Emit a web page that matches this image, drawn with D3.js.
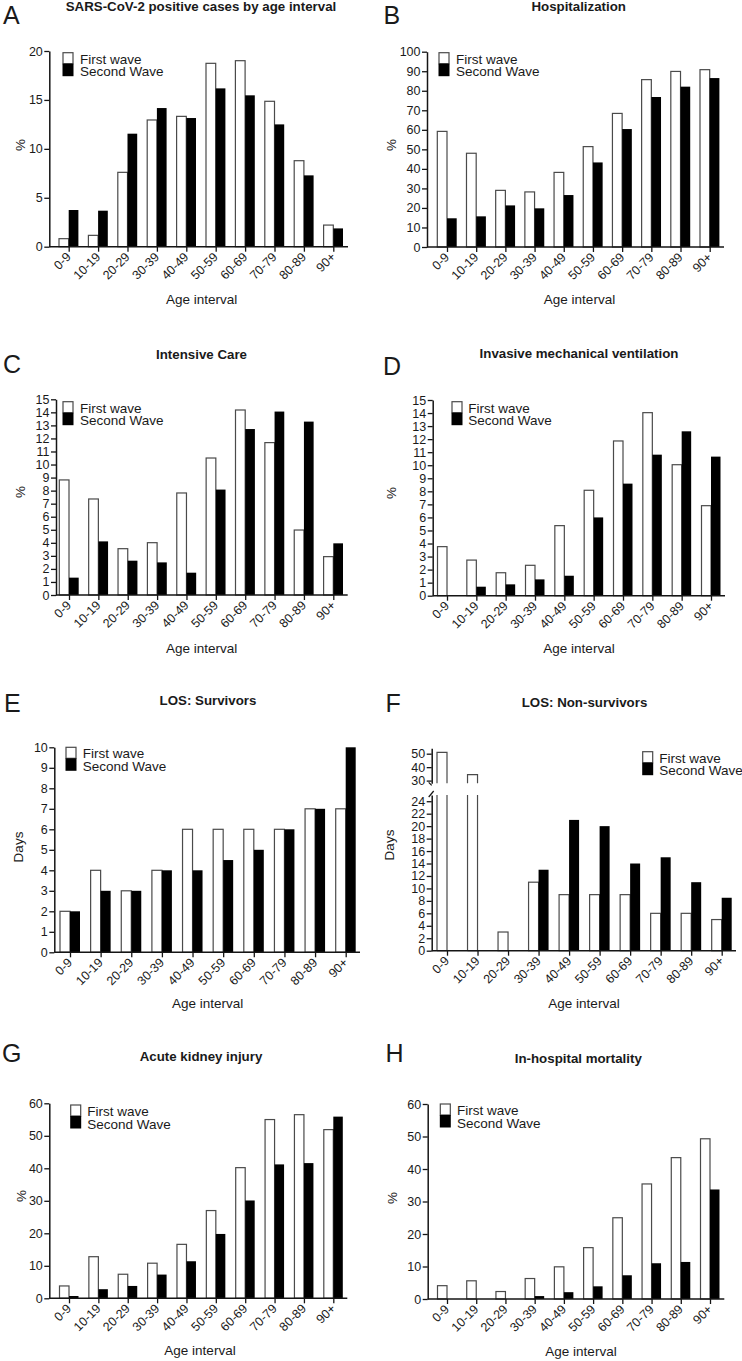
<!DOCTYPE html>
<html>
<head>
<meta charset="utf-8">
<script src="https://cdn.jsdelivr.net/npm/d3@7"></script>
<style>
  html, body { margin: 0; padding: 0; background: #fff; }
  svg { display: block; }
</style>
</head>
<body>
<svg id="chart" width="742" height="1361"></svg>
<script>
// ---------------- DATA ----------------
const ageGroups = ["0-9", "10-19", "20-29", "30-39", "40-49", "50-59", "60-69", "70-79", "80-89", "90+"];
const seriesNames = ["First wave", "Second Wave"];

const casesFirst  = [0.82, 1.16, 7.6, 12.95, 13.32, 18.74, 19.01, 14.86, 8.79, 2.21];
const casesSecond = [3.75, 3.68, 11.55, 14.17, 13.15, 16.18, 15.47, 12.5, 7.29, 1.87];
const casesTicks  = [0, 5, 10, 15, 20];

const hospFirst  = [59.2, 48.0, 29.0, 28.2, 38.2, 51.4, 68.4, 85.7, 89.9, 90.8];
const hospSecond = [14.7, 15.7, 21.3, 19.8, 26.6, 43.3, 60.4, 76.8, 82.1, 86.5];
const hospTicks  = [0, 10, 20, 30, 40, 50, 60, 70, 80, 90, 100];

const icuFirst  = [8.82, 7.36, 3.55, 4.01, 7.82, 10.5, 14.18, 11.68, 4.98, 2.94];
const icuSecond = [1.33, 4.11, 2.63, 2.5, 1.71, 8.08, 12.72, 14.06, 13.29, 3.96];
const icuTicks  = [0, 1, 2, 3, 4, 5, 6, 7, 8, 9, 10, 11, 12, 13, 14, 15];

const imvFirst  = [3.76, 2.73, 1.76, 2.33, 5.37, 8.08, 11.86, 14.03, 10.04, 6.9];
const imvSecond = [0, 0.69, 0.87, 1.25, 1.53, 6.0, 8.59, 10.81, 12.6, 10.66];
const imvTicks  = [0, 1, 2, 3, 4, 5, 6, 7, 8, 9, 10, 11, 12, 13, 14, 15];

const losSurvFirst  = [2, 4, 3, 4, 6, 6, 6, 6, 7, 7];
const losSurvSecond = [2, 3, 3, 4, 4, 4.5, 5, 6, 7, 10];
const losSurvTicks  = [0, 1, 2, 3, 4, 5, 6, 7, 8, 9, 10];

const losNonSurvFirst  = [51, 34.5, 3, 11, 9, 9, 9, 6, 6, 5];
const losNonSurvSecond = [0, 0, 0, 13, 21, 20, 14, 15, 11, 8.5];
const losNonSurvTicksLow  = [0, 2, 4, 6, 8, 10, 12, 14, 16, 18, 20, 22, 24];
const losNonSurvTicksHigh = [30, 40, 50];

const akiFirst  = [3.8, 12.8, 7.4, 10.8, 16.6, 27.0, 40.2, 55.0, 56.5, 51.9];
const akiSecond = [0.7, 2.8, 3.8, 7.3, 11.4, 19.8, 30.1, 41.2, 41.6, 55.9];
const akiTicks  = [0, 10, 20, 30, 40, 50, 60];

const mortFirst  = [4.1, 5.6, 2.3, 6.3, 9.9, 15.8, 25.0, 35.4, 43.5, 49.3];
const mortSecond = [0, 0, 0, 0.9, 2.1, 3.9, 7.3, 11.0, 11.4, 33.7];
const mortTicks  = [0, 10, 20, 30, 40, 50, 60];

// ---------------- STYLE / LAYOUT ----------------
const FONT = "'Liberation Sans', Arial, Helvetica, sans-serif";
const svg = d3.select("#chart");

const panels = [
  { letter: "A", title: "SARS-CoV-2 positive cases by age interval", ylabel: "%",
    first: casesFirst, second: casesSecond, ticks: casesTicks, max: 20,
    axisX: 49.3, y0: 246.7, yTop: 51, xEnd: 348, c0: 68.7, c9: 333.3, bw: 9.7,
    letterPos: [3, 24], titlePos: [201, 10.5], legend: [63, 52.7, 80], ylab: [20.5, 145], xlab: [201.7, 304] },
  { letter: "B", title: "Hospitalization", ylabel: "%",
    first: hospFirst, second: hospSecond, ticks: hospTicks, max: 100,
    axisX: 427, y0: 247, yTop: 51.7, xEnd: 724, c0: 447, c9: 709.7, bw: 9.7,
    letterPos: [383.5, 23.5], titlePos: [578.7, 11], legend: [439, 52.7, 456], ylab: [391.5, 145], xlab: [579.5, 304] },
  { letter: "C", title: "Intensive Care", ylabel: "%",
    first: icuFirst, second: icuSecond, ticks: icuTicks, max: 15,
    axisX: 56, y0: 595, yTop: 399.3, xEnd: 347.7, c0: 69, c9: 333.3, bw: 9.7,
    letterPos: [3, 373], titlePos: [201.5, 359], legend: [63, 401.7, 80], ylab: [20.5, 492], xlab: [201.7, 652.5] },
  { letter: "D", title: "Invasive mechanical ventilation", ylabel: "%",
    first: imvFirst, second: imvSecond, ticks: imvTicks, max: 15,
    axisX: 432.7, y0: 595.7, yTop: 400, xEnd: 725, c0: 447, c9: 711, bw: 9.5,
    letterPos: [383, 375], titlePos: [579, 358], legend: [452, 401.7, 468.3], ylab: [391.5, 493], xlab: [579, 652.5] },
  { letter: "E", title: "LOS: Survivors", ylabel: "Days",
    first: losSurvFirst, second: losSurvSecond, ticks: losSurvTicks, max: 10,
    axisX: 54.3, y0: 952.3, yTop: 747.3, xEnd: 360, c0: 70, c9: 345.7, bw: 10,
    letterPos: [4, 711.7], titlePos: [208, 705], legend: [66, 747.3, 82.7], ylab: [18.5, 847], xlab: [207.7, 1008] },
  { letter: "F", title: "LOS: Non-survivors", ylabel: "Days", broken: true,
    first: losNonSurvFirst, second: losNonSurvSecond,
    ticksLow: losNonSurvTicksLow, ticksHigh: losNonSurvTicksHigh,
    lowDomain: [0, 25], lowRange: [950.7, 795], highDomain: [28, 54], highRange: [783.3, 748.3],
    axisX: 431.7, y0: 950.7, xEnd: 736, c0: 447, c9: 721.7, bw: 10,
    letterPos: [385.5, 711.7], titlePos: [584.5, 706.5], legend: [642.7, 751.7, 659.3], ylab: [389.5, 845], xlab: [584, 1008] },
  { letter: "G", title: "Acute kidney injury", ylabel: "%",
    first: akiFirst, second: akiSecond, ticks: akiTicks, max: 60,
    axisX: 49.3, y0: 1298.3, yTop: 1103.3, xEnd: 347.3, c0: 69, c9: 333.3, bw: 9.5,
    letterPos: [2, 1061.7], titlePos: [201, 1060.7], legend: [70.7, 1105, 87.3], ylab: [21, 1196], xlab: [200, 1355] },
  { letter: "H", title: "In-hospital mortality", ylabel: "%",
    first: mortFirst, second: mortSecond, ticks: mortTicks, max: 60,
    axisX: 427.7, y0: 1299, yTop: 1104, xEnd: 724.3, c0: 447, c9: 710, bw: 9.5,
    letterPos: [385.5, 1061.7], titlePos: [578.3, 1062.5], legend: [440.3, 1104, 457], ylab: [392, 1198], xlab: [581, 1356] }
];

const AXIS_COLOR = "#151515";
const OUTLINE = "#4a4a4a";

function styleAxis(g) {
  g.selectAll("path.domain").attr("stroke", AXIS_COLOR).attr("stroke-width", 1.5);
  g.selectAll(".tick line").attr("stroke", AXIS_COLOR).attr("stroke-width", 1.3);
  g.selectAll(".tick text").attr("fill", "#1a1a1a").style("font-family", FONT).style("font-size", "12.5px");
}

function drawPanel(p) {
  const g = svg.append("g");
  const x = d3.scalePoint().domain(ageGroups).range([p.c0, p.c9]);

  // panel letter
  g.append("text").attr("x", p.letterPos[0]).attr("y", p.letterPos[1])
    .text(p.letter).style("font-family", FONT).style("font-size", "25px").attr("fill", "#1a1a1a");
  // title
  g.append("text").attr("x", p.titlePos[0]).attr("y", p.titlePos[1]).attr("text-anchor", "middle")
    .text(p.title).style("font-family", FONT).style("font-size", "13.3px").style("font-weight", "bold").attr("fill", "#1a1a1a");
  // y label
  g.append("text").attr("transform", `translate(${p.ylab[0]},${p.ylab[1]}) rotate(-90)`)
    .attr("text-anchor", "middle").attr("dy", "0.35em")
    .text(p.ylabel).style("font-family", FONT).style("font-size", "13.5px").attr("fill", "#1a1a1a");
  // x label
  g.append("text").attr("x", p.xlab[0]).attr("y", p.xlab[1]).attr("text-anchor", "middle")
    .text("Age interval").style("font-family", FONT).style("font-size", "13.5px").attr("fill", "#1a1a1a");

  if (!p.broken) {
    const y = d3.scaleLinear().domain([0, p.max]).range([p.y0, p.yTop]);
    const ax = g.append("g").attr("transform", `translate(${p.axisX},0)`)
      .call(d3.axisLeft(y).tickValues(p.ticks).tickSize(5).tickSizeOuter(0).tickPadding(1.5));
    styleAxis(ax);
    // bars
    p.first.forEach((v, i) => {
      const cx = x(ageGroups[i]);
      g.append("rect").attr("x", cx - p.bw).attr("y", y(v)).attr("width", p.bw).attr("height", p.y0 - y(v))
        .attr("fill", "#fff").attr("stroke", OUTLINE).attr("stroke-width", 1.2);
    });
    p.second.forEach((v, i) => {
      const cx = x(ageGroups[i]);
      if (v > 0) g.append("rect").attr("x", cx).attr("y", y(v)).attr("width", p.bw).attr("height", p.y0 - y(v))
        .attr("fill", "#000");
    });
  } else {
    const yLow = d3.scaleLinear().domain(p.lowDomain).range(p.lowRange);
    const yHigh = d3.scaleLinear().domain(p.highDomain).range(p.highRange);
    const axL = g.append("g").attr("transform", `translate(${p.axisX},0)`)
      .call(d3.axisLeft(yLow).tickValues(p.ticksLow).tickSize(5).tickSizeOuter(0).tickPadding(1.5));
    styleAxis(axL);
    const axH = g.append("g").attr("transform", `translate(${p.axisX},0)`)
      .call(d3.axisLeft(yHigh).tickValues(p.ticksHigh).tickSize(5).tickSizeOuter(0).tickPadding(1.5));
    styleAxis(axH);
    // break marks
    const lowTop = p.lowRange[1], highBot = p.highRange[0];
    g.append("path").attr("d", `M${p.axisX - 3},${lowTop + 2} L${p.axisX + 2},${lowTop - 4}`)
      .attr("stroke", AXIS_COLOR).attr("stroke-width", 1.2).attr("fill", "none");
    g.append("path").attr("d", `M${p.axisX - 3},${highBot - 1} L${p.axisX},${highBot + 2}`)
      .attr("stroke", AXIS_COLOR).attr("stroke-width", 1.2).attr("fill", "none");

    function brokenBar(v, left, w, white) {
      const fill = white ? "#fff" : "#000";
      if (v <= p.lowDomain[1]) {
        g.append("rect").attr("x", left).attr("y", yLow(v)).attr("width", w).attr("height", p.y0 - yLow(v))
          .attr("fill", fill).attr("stroke", white ? OUTLINE : "none").attr("stroke-width", 1.2);
      } else {
        g.append("rect").attr("x", left).attr("y", lowTop).attr("width", w).attr("height", p.y0 - lowTop).attr("fill", fill);
        g.append("rect").attr("x", left).attr("y", yHigh(v)).attr("width", w).attr("height", highBot - yHigh(v)).attr("fill", fill);
        if (white) {
          g.append("path").attr("d",
            `M${left},${p.y0} V${lowTop} M${left + w},${lowTop} V${p.y0} H${left}` +
            ` M${left},${highBot} V${yHigh(v)} H${left + w} V${highBot}`)
            .attr("fill", "none").attr("stroke", OUTLINE).attr("stroke-width", 1.2);
        }
      }
    }
    p.first.forEach((v, i) => { brokenBar(v, x(ageGroups[i]) - p.bw, p.bw, true); });
    p.second.forEach((v, i) => { if (v > 0) brokenBar(v, x(ageGroups[i]), p.bw, false); });
  }

  // x axis
  const xa = g.append("g").attr("transform", `translate(0,${p.y0})`)
    .call(d3.axisBottom(x).tickSize(5).tickSizeOuter(0));
  xa.select("path.domain").remove();
  xa.append("line").attr("x1", p.axisX).attr("x2", p.xEnd).attr("y1", 0).attr("y2", 0)
    .attr("stroke", AXIS_COLOR).attr("stroke-width", 1.5);
  styleAxis(xa);
  xa.selectAll(".tick text")
    .attr("x", 0).attr("y", 0).attr("dy", null)
    .attr("text-anchor", "end")
    .attr("transform", "translate(2.5,11) rotate(-45)");

  // legend
  const [lx, ly, tx] = p.legend;
  g.append("rect").attr("x", lx).attr("y", ly).attr("width", 10).attr("height", 11)
    .attr("fill", "#fff").attr("stroke", OUTLINE).attr("stroke-width", 1.2);
  g.append("rect").attr("x", lx - 0.5).attr("y", ly + 11).attr("width", 11).attr("height", 12.5).attr("fill", "#000");
  g.append("text").attr("x", tx).attr("y", ly + 10.8).text(seriesNames[0])
    .style("font-family", FONT).style("font-size", "13.5px").attr("fill", "#1a1a1a");
  g.append("text").attr("x", tx).attr("y", ly + 23.5).text(seriesNames[1])
    .style("font-family", FONT).style("font-size", "13.5px").attr("fill", "#1a1a1a");
}

panels.forEach(drawPanel);
</script>
</body>
</html>
